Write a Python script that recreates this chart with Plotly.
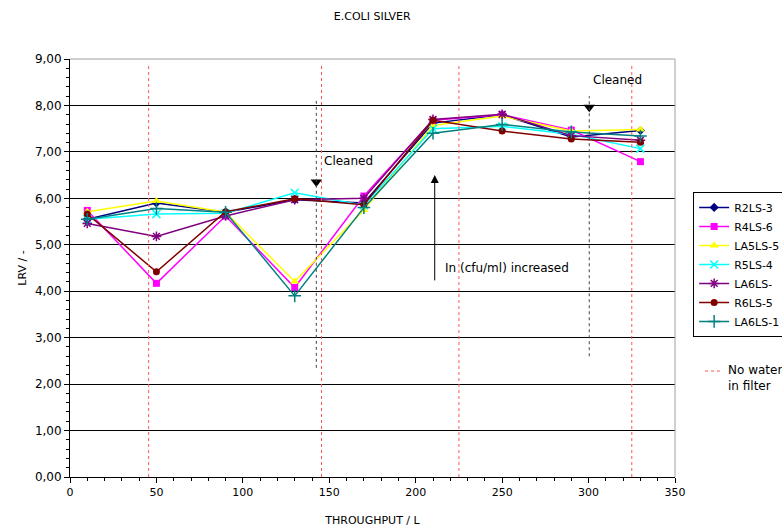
import plotly.graph_objects as go

throughput = [10, 50, 90, 130, 170, 210, 250, 290, 330]
series_names = ["R2LS-3", "R4LS-6", "LA5LS-5", "R5LS-4", "LA6LS-", "R6LS-5", "LA6LS-1"]
r2ls3 = [5.55, 5.90, 5.70, 5.97, 5.90, 7.62, 7.80, 7.32, 7.46]
r4ls6 = [5.74, 4.17, 5.62, 4.08, 6.05, 7.68, 7.80, 7.47, 6.79]
la5ls5 = [5.71, 5.94, 5.70, 4.21, 5.75, 7.57, 7.77, 7.45, 7.48]
r5ls4 = [5.55, 5.66, 5.68, 6.12, 5.85, 7.50, 7.55, 7.38, 7.07]
la6ls = [5.46, 5.18, 5.62, 5.97, 6.00, 7.70, 7.81, 7.35, 7.25]
r6ls5 = [5.66, 4.42, 5.71, 5.99, 5.86, 7.68, 7.45, 7.28, 7.21]
la6ls1 = [5.55, 5.78, 5.70, 3.90, 5.80, 7.40, 7.59, 7.43, 7.34]

no_water_x = [45.5, 145.5, 225, 325]
cleaned_x = [142.5, 300.4]
cleaned_arrow_y = [6.35, 7.96]
cleaned_line_top = [8.15, 8.2]
cleaned_line_bottom = [2.35, 2.6]
increase_x = 211
increase_y = [4.2, 6.5]

FONT = "DejaVu Sans"
RED_DOT = "#FF5555"

styles = [
    dict(color="#000080", symbol="diamond", size=7),
    dict(color="#FF00FF", symbol="square", size=7),
    dict(color="#FFFF00", symbol="triangle-up", size=8),
    dict(color="#00FFFF", symbol="x-thin", size=8),
    dict(color="#800080", symbol="asterisk", size=8),
    dict(color="#800000", symbol="circle", size=7),
    dict(color="#008080", symbol="cross-thin", size=9),
]
data = [r2ls3, r4ls6, la5ls5, r5ls4, la6ls, r6ls5, la6ls1]

fig = go.Figure()

shapes = []
for xv in no_water_x:
    shapes.append(dict(type="line", xref="x", yref="y", x0=xv, x1=xv, y0=0, y1=8.87,
                       line=dict(color=RED_DOT, width=1, dash="dot"), layer="above"))
for xv, yt, yb in zip(cleaned_x, cleaned_line_top, cleaned_line_bottom):
    shapes.append(dict(type="line", xref="x", yref="y", x0=xv, x1=xv, y0=yb, y1=yt,
                       line=dict(color="#444444", width=1, dash="dot"), layer="above"))
# legend sample for "No water in filter"
shapes.append(dict(type="line", xref="paper", yref="paper", x0=1.0496, x1=1.0744, y0=0.2535, y1=0.2535,
                   line=dict(color=RED_DOT, width=1, dash="dot")))
# plot area gray border (top/right)
shapes.append(dict(type="line", xref="paper", yref="paper", x0=0, x1=1, y0=1, y1=1,
                   line=dict(color="#A0A0A0", width=1)))
shapes.append(dict(type="line", xref="paper", yref="paper", x0=1, x1=1, y0=0, y1=1,
                   line=dict(color="#A0A0A0", width=1)))

for name, vals, st in zip(series_names, data, styles):
    thin = st["symbol"] in ("x-thin", "cross-thin", "asterisk")
    marker = dict(symbol=st["symbol"], size=st["size"], color=st["color"])
    if thin:
        marker["line"] = dict(color=st["color"], width=1.5)
    fig.add_trace(go.Scatter(x=throughput, y=vals, name=name, mode="lines+markers",
                             line=dict(color=st["color"], width=1.5), marker=marker))

fig.add_trace(go.Scatter(x=cleaned_x, y=cleaned_arrow_y, mode="markers", showlegend=False,
                         hoverinfo="skip",
                         marker=dict(symbol="triangle-down", size=10, color="black")))

annotations = [
    dict(x=increase_x, y=increase_y[1], ax=increase_x, ay=increase_y[0], xref="x", yref="y",
         axref="x", ayref="y", showarrow=True, arrowhead=2, arrowsize=1.6, arrowwidth=1,
         arrowcolor="black", text=""),
    dict(x=145.5, y=6.8, xref="x", yref="y", text="Cleaned", showarrow=False,
         xanchor="left", font=dict(family=FONT, size=12, color="black")),
    dict(x=301.5, y=8.55, xref="x", yref="y", text="Cleaned", showarrow=False,
         xanchor="left", font=dict(family=FONT, size=12, color="black")),
    dict(x=215.5, y=4.5, xref="x", yref="y", text="In (cfu/ml) increased", showarrow=False,
         xanchor="left", font=dict(family=FONT, size=12, color="black")),
    dict(x=1.085, y=0.2535, xref="paper", yref="paper", text="No water<br>in filter",
         showarrow=False, xanchor="left", yanchor="top", yshift=10, align="left",
         font=dict(family=FONT, size=12, color="black")),
]

fig.update_layout(
    width=782, height=531,
    margin=dict(l=70, r=107, t=59, b=54, autoexpand=False),
    paper_bgcolor="white", plot_bgcolor="white",
    separators=",.",
    font=dict(family=FONT, size=12, color="black"),
    title=dict(text="E.COLI SILVER", x=0.476, xanchor="center", y=0.97, yanchor="middle",
               font=dict(family=FONT, size=11, color="black")),
    shapes=shapes,
    annotations=annotations,
    showlegend=True,
    legend=dict(x=1.03, y=0.682, xanchor="left", yanchor="top",
                bordercolor="black", borderwidth=1, bgcolor="white",
                font=dict(family=FONT, size=11, color="black"),
                tracegroupgap=0, itemwidth=30),
    xaxis=dict(range=[0, 350], tickvals=list(range(0, 351, 50)),
               ticks="outside", ticklen=5, tickcolor="black",
               minor=dict(dtick=10, ticks="outside", ticklen=3, tickcolor="black"),
               showgrid=False, zeroline=False, showline=True, linecolor="black",
               title=dict(text="THROUGHPUT / L", font=dict(family=FONT, size=11), standoff=18),
               tickfont=dict(family=FONT, size=11)),
    yaxis=dict(range=[0, 9], dtick=1, tickformat=".2f",
               ticks="outside", ticklen=5, tickcolor="black",
               minor=dict(dtick=0.2, ticks="outside", ticklen=3, tickcolor="black"),
               showgrid=True, gridcolor="black", gridwidth=1, zeroline=False,
               showline=True, linecolor="black",
               title=dict(text="LRV / -", font=dict(family=FONT, size=11), standoff=6),
               tickfont=dict(family=FONT, size=12)),
)

fig.write_html("out.html")
